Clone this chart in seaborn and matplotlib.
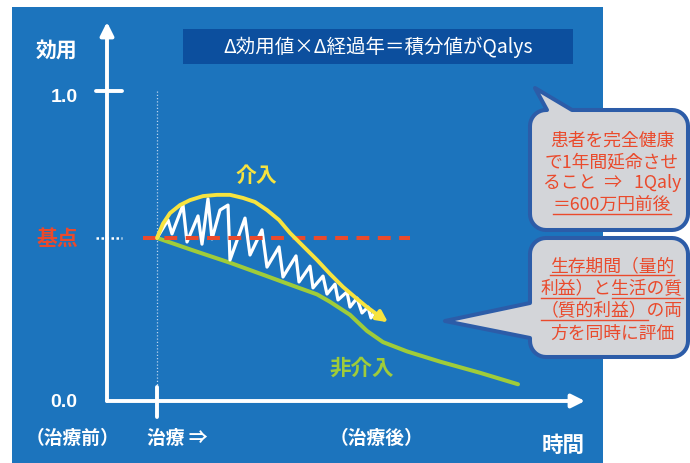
import numpy as np
import matplotlib
matplotlib.use("Agg")
import matplotlib.pyplot as plt
import matplotlib.transforms as mtransforms
from matplotlib.patches import Rectangle, Polygon
import seaborn as sns

# ---------------- data (time relative to treatment, utility 0..1) ----------------
baseline_utility = 0.526
y_tick_values = [0.0, 1.0]
y_tick_labels = ["0.0", "1.0"]

intervention_t = [0.00, 0.12, 0.26, 0.46, 0.66, 0.92, 1.20, 1.46, 1.72, 1.96, 2.20,
                  2.44, 2.66, 2.92, 3.20, 3.46, 3.72, 3.96, 4.20, 4.42, 4.62]
intervention_u = [0.526, 0.572, 0.606, 0.632, 0.648, 0.661, 0.665, 0.665, 0.655, 0.642, 0.616,
                  0.584, 0.542, 0.500, 0.455, 0.410, 0.368, 0.335, 0.303, 0.277, 0.254]

nonintervention_t = [0.00, 0.70, 1.46, 2.16, 2.82, 3.20, 3.46, 3.86, 4.20, 4.52,
                     5.00, 5.66, 6.46, 7.22]
nonintervention_u = [0.526, 0.487, 0.446, 0.405, 0.366, 0.344, 0.320, 0.278, 0.226, 0.190,
                     0.160, 0.127, 0.091, 0.054]

qaly_t = [0.00, 0.22, 0.30, 0.52, 0.60, 0.82, 0.90, 1.02, 1.10, 1.26, 1.42, 1.46, 1.76,
          1.86, 2.10, 2.20, 2.44, 2.52, 2.78, 2.84, 3.06, 3.12, 3.32, 3.40, 3.56, 3.62,
          3.80, 3.86, 4.00, 4.10, 4.22, 4.28, 4.34]
qaly_u = [0.526, 0.584, 0.539, 0.632, 0.513, 0.597, 0.506, 0.652, 0.523, 0.616, 0.632, 0.455,
          0.590, 0.471, 0.552, 0.432, 0.497, 0.400, 0.468, 0.384, 0.435, 0.365, 0.403, 0.345,
          0.377, 0.326, 0.352, 0.303, 0.332, 0.284, 0.303, 0.268, 0.284]

title_text = "Δ効用値×Δ経過年＝積分値がQalys"
y_axis_label = "効用"
x_axis_label = "時間"
baseline_label = "基点"
intervention_label = "介入"
nonintervention_label = "非介入"
time_labels = ["（治療前）", "治療 ⇒", "（治療後）"]

callout1_lines = [[("患者を完全健康", False)],
                  [("で1年間延命させ", False)],
                  [("ること  ⇒   1Qaly", False)],
                  [("＝600万円前後", True)]]
callout2_lines = [[("生存期間（量的", True)],
                  [("利益）", True), ("と", False), ("生活の質", True)],
                  [("（質的利益）", True), ("の両", False)],
                  [("方を同時に評価", False)]]

# ---------------- style ----------------
plt.rcParams['font.family'] = ['Noto Sans CJK JP', 'DejaVu Sans']
BG = "#1c74bd"
TITLE_BG = "#0c4f9e"
RED = "#ea4a2c"
YELLOW = "#f7e33f"
GREEN = "#9fcc3a"
WHITE = "white"
BOX_FILL = "#d3d5d9"
BOX_EDGE = "#2c5ca8"

W, H = 690, 463
fig = plt.figure(figsize=(W / 100, H / 100), dpi=100, facecolor="white")
ax = fig.add_axes([0, 0, 1, 1])
ax.axis("off")

# data scale: treatment at pixel x=157, 50 px per time unit; utility 0 at y=401, 1 at y=91
XLIM = (-157 / 50, (W - 157) / 50)
YLIM = ((401 - H) / 310, 401 / 310)
ax.set_xlim(*XLIM)
ax.set_ylim(*YLIM)

# pixel transform (origin top-left)
P = mtransforms.Affine2D().scale(1 / W, -1 / H).translate(0, 1) + fig.transFigure

# blue panel
ax.add_patch(Rectangle((12, 7), 591, 460, transform=P, facecolor=BG, edgecolor="none", zorder=0))

# title bar
ax.add_patch(Rectangle((183, 29), 390, 35, transform=P, facecolor=TITLE_BG, edgecolor="none", zorder=1))
ax.text(378, 47, title_text, transform=P, ha="center", va="center", color=WHITE, fontsize=14, zorder=2)

# axes arrows
AX_LW = 2.8
arrow_kw = dict(arrowstyle="-|>", color=WHITE, lw=AX_LW, mutation_scale=20, shrinkA=0, shrinkB=0)
x_start = -1.0
ax.annotate("", xy=(x_start, (401 - 22) / 310), xytext=(x_start, 0.0), arrowprops=arrow_kw, zorder=5)
ax.annotate("", xy=((585 - 157) / 50, 0.0), xytext=(x_start, 0.0), arrowprops=arrow_kw, zorder=5)

# 1.0 tick and treatment tick
ax.plot([-1.22, -0.70], [y_tick_values[1]] * 2, color=WHITE, lw=AX_LW, zorder=5, solid_capstyle="butt")
ax.plot([0, 0], [0.045, -0.052], color=WHITE, lw=AX_LW, zorder=5, solid_capstyle="butt")
for v, lab in zip(y_tick_values, y_tick_labels):
    ax.text(-1.86, v - 0.02 if v > 0 else v - 0.004, lab, ha="center", va="center", color=WHITE,
            fontsize=14, fontweight="bold", family=["Liberation Sans", "DejaVu Sans"], zorder=5)

# vertical dotted at treatment
ax.plot([0, 0], [0.0, 1.0], color="#b9d3ee", lw=0.9, ls=(0, (1, 1.6)), zorder=2)

# baseline
ax.hlines(baseline_utility, -0.28, 5.06, colors=RED, lw=2.9, linestyles=[(0, (3.2, 2.1))], zorder=4)
ax.hlines(baseline_utility, -1.22, -0.70, colors=WHITE, lw=1.8, linestyles=[(0, (1, 1.0))], zorder=4)

# curves
sns.lineplot(x=nonintervention_t, y=nonintervention_u, ax=ax, color=GREEN, lw=2.9,
             sort=False, estimator=None, legend=False, zorder=3)
sns.lineplot(x=qaly_t, y=qaly_u, ax=ax, color=WHITE, lw=2.3, sort=False, estimator=None,
             legend=False, zorder=3)
sns.lineplot(x=intervention_t[:-1], y=intervention_u[:-1], ax=ax, color=YELLOW, lw=2.8,
             sort=False, estimator=None, legend=False, zorder=4)
ax.annotate("", xy=(intervention_t[-1], intervention_u[-1]),
            xytext=(intervention_t[-2], intervention_u[-2]),
            arrowprops=dict(arrowstyle="-|>", color=YELLOW, lw=2.8, mutation_scale=16,
                            shrinkA=0, shrinkB=0), zorder=4)
for l in ax.lines:
    l.set_solid_joinstyle("round")
    l.set_solid_capstyle("round")

ax.set_xlim(*XLIM)
ax.set_ylim(*YLIM)

# labels
lab_kw = dict(transform=P, ha="center", va="center", fontweight="bold", zorder=6)
ax.text(57, 50, y_axis_label, color=WHITE, fontsize=15, **lab_kw)
ax.text(57, 238, baseline_label, color=RED, fontsize=15, **lab_kw)
ax.text(256, 175, intervention_label, color=YELLOW, fontsize=15, **lab_kw)
ax.text(362, 368, nonintervention_label, color=GREEN, fontsize=15.5, **lab_kw)
ax.text(72, 438, time_labels[0], color=WHITE, fontsize=13.5, **lab_kw)
ax.text(147, 438, time_labels[1], color=WHITE, fontsize=13.5, transform=P, ha="left",
        va="center", fontweight="bold", zorder=6)
ax.text(376, 438, time_labels[2], color=WHITE, fontsize=13.5, **lab_kw)
ax.text(563, 445, x_axis_label, color=WHITE, fontsize=15.5, **lab_kw)


# callouts
def callout(x0, y0, x1, y1, r, side, base, tip, n=10):
    pts = []

    def arc(cx, cy, a0, a1):
        for a in np.linspace(a0, a1, n):
            pts.append((cx + r * np.cos(a), cy + r * np.sin(a)))

    pts.append((x0 + r, y0))
    if side == "top":
        pts += [(base[0], y0), tip, (base[1], y0)]
    pts.append((x1 - r, y0))
    arc(x1 - r, y0 + r, -np.pi / 2, 0)
    arc(x1 - r, y1 - r, 0, np.pi / 2)
    arc(x0 + r, y1 - r, np.pi / 2, np.pi)
    if side == "left":
        pts += [(x0, base[1]), tip, (x0, base[0])]
    arc(x0 + r, y0 + r, np.pi, 1.5 * np.pi)
    return Polygon(pts, closed=True, transform=P, facecolor=BOX_FILL, edgecolor=BOX_EDGE,
                   lw=2.9, joinstyle="round", zorder=7)


ax.add_patch(callout(530, 110, 688, 230, 16, "top", (547, 572), (535, 88)))
ax.add_patch(callout(530, 238, 688, 357, 16, "left", (303, 338), (445, 321)))

fig.canvas.draw()
renderer = fig.canvas.get_renderer()


def measure(s, fs):
    if not s:
        return 0.0
    t = ax.text(0, 0, s, transform=P, fontsize=fs)
    w = t.get_window_extent(renderer).width
    t.remove()
    return w


def write_lines(lines, cx, ys, fs):
    for segs, y in zip(lines, ys):
        full = "".join(s for s, _ in segs)
        ax.text(cx, y, full, transform=P, ha="center", va="center", fontsize=fs, color=RED, zorder=8)
        wf = measure(full, fs)
        left = cx - wf / 2
        acc = ""
        for s, u in segs:
            w0 = measure(acc, fs)
            acc += s
            w1 = measure(acc, fs)
            if u:
                ax.plot([left + w0, left + w1], [y + 8.5, y + 8.5], transform=P, color=RED,
                        lw=1.0, zorder=8)


write_lines(callout1_lines, 612, [141, 162, 183, 205], 12.8)
write_lines(callout2_lines, 612, [266, 289, 311, 334], 12.8)

fig.savefig("out.png", dpi=100, facecolor="white")
